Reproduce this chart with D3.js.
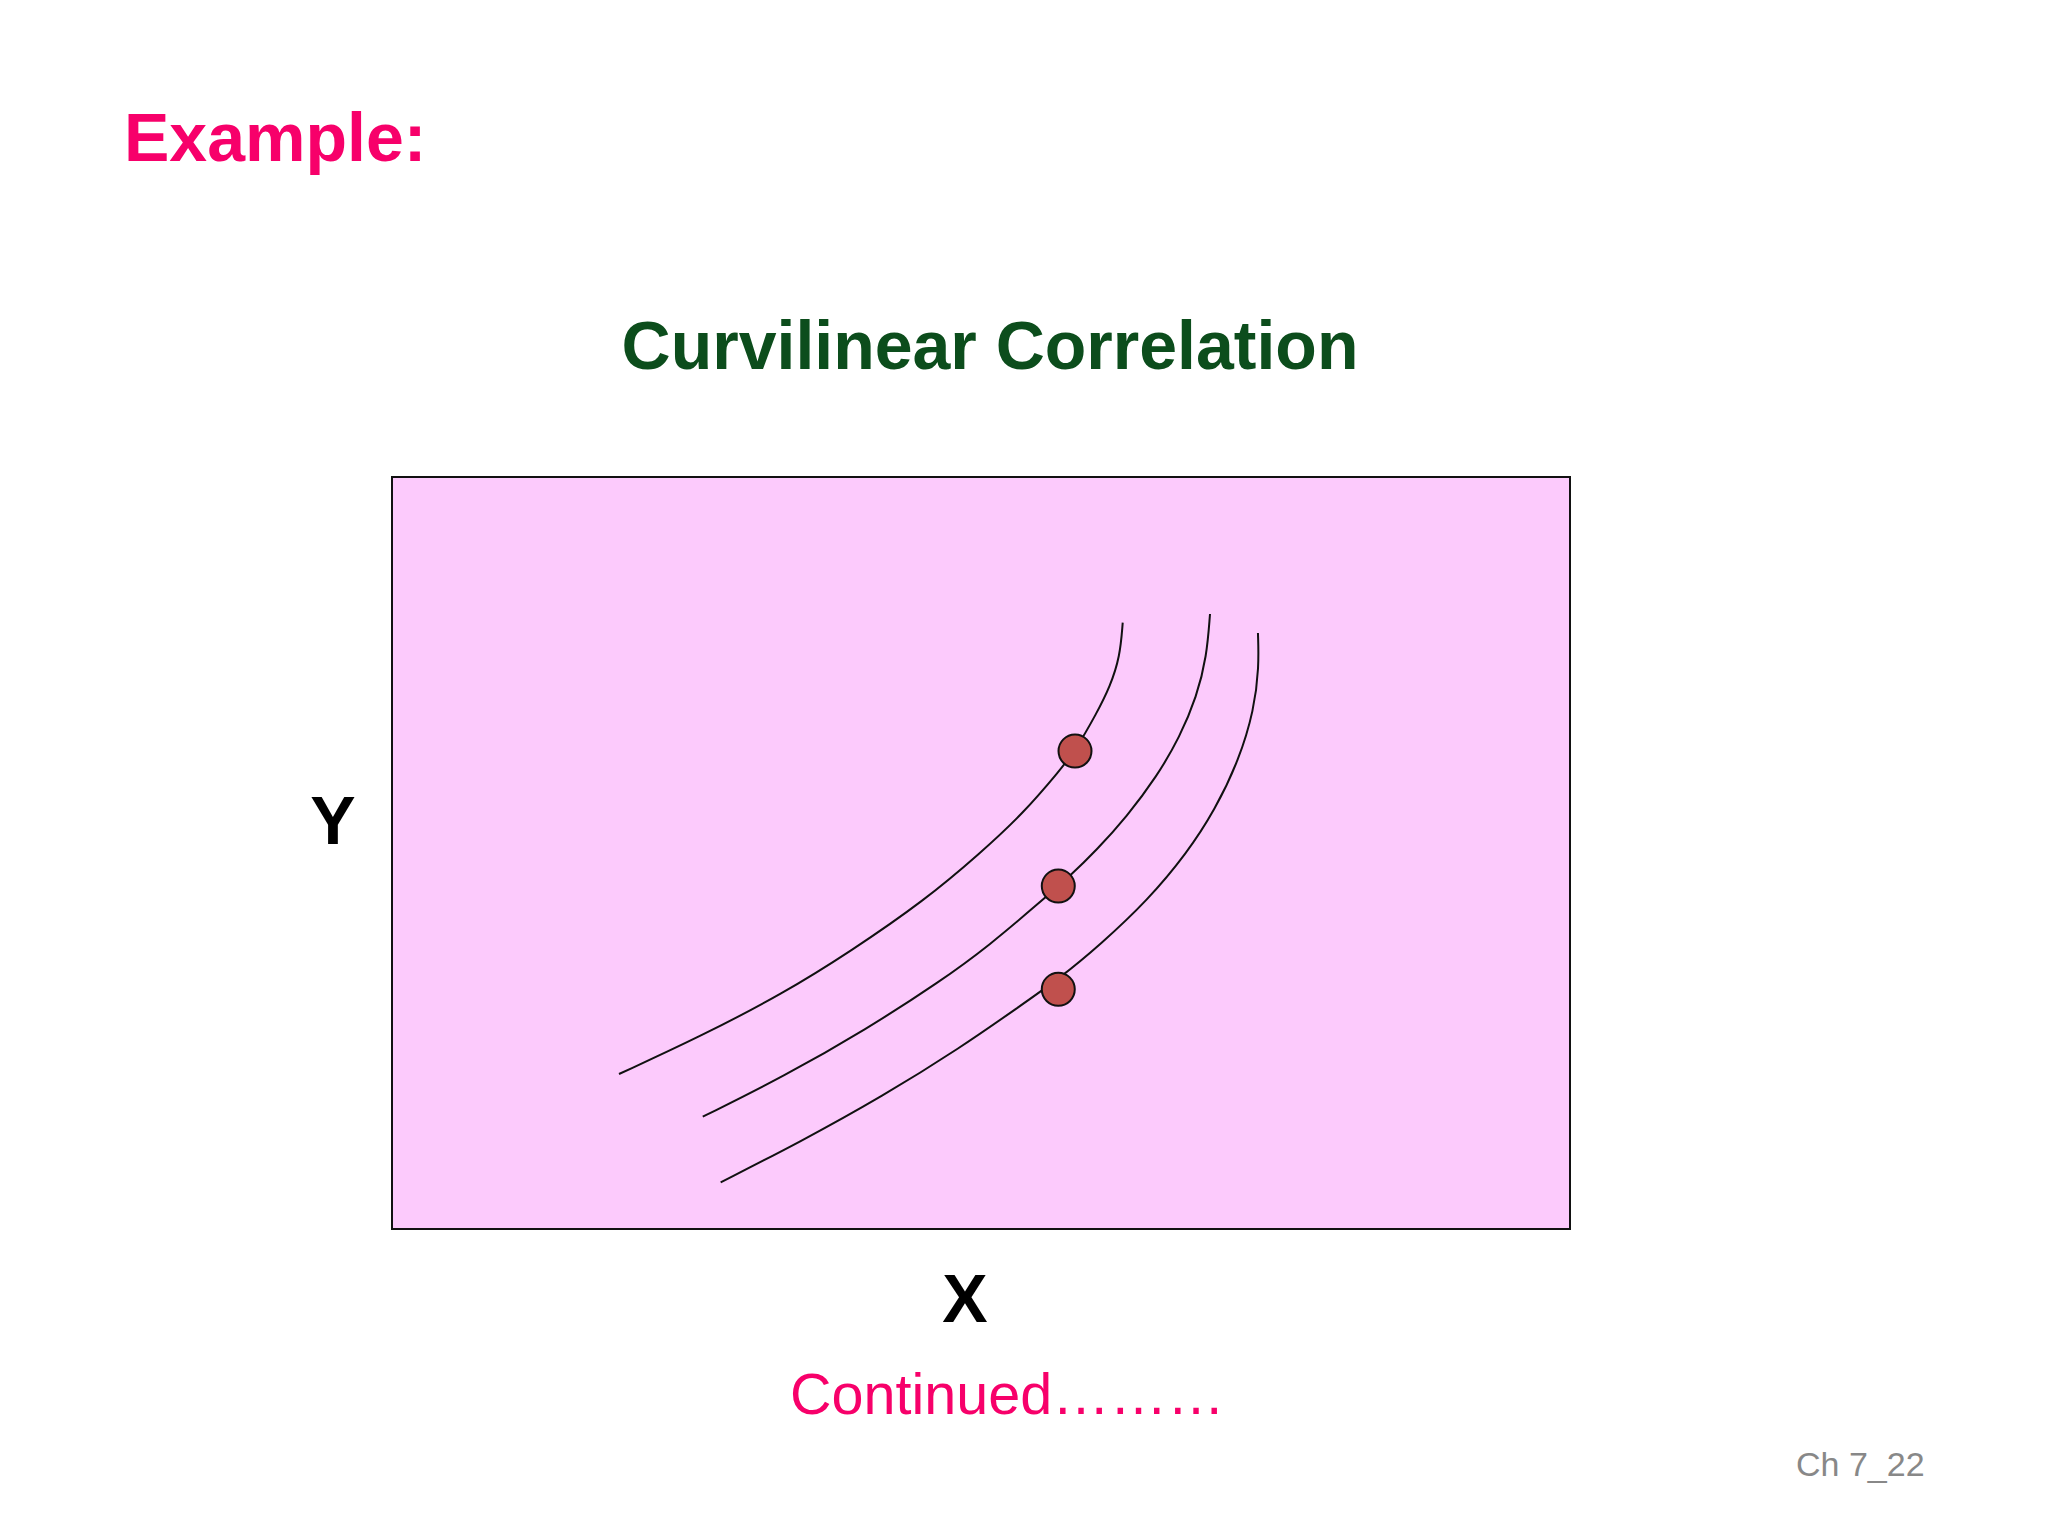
<!DOCTYPE html>
<html lang="en">

<head>
    <meta charset="UTF-8">
    <title>Curvilinear Correlation</title>
    <style>
        body { margin: 0; background: #ffffff; }
        text { font-family: "Liberation Sans", Arial, sans-serif; }
    </style>
</head>

<body>
    <div id="my_dataviz"></div>
    <script src="https://d3js.org/d3.v7.min.js"></script>
    <script>
        // three curves (x, y in 0..100 plot units)
        var curveTop = [
            [19.27, 20.61], [26.15, 25.57], [33.22, 31.34], [38.88, 36.87], [45.25, 43.75],
            [49.92, 49.96], [53.59, 55.28], [56.71, 61.04], [57.98, 63.56], [59.82, 68.58],
            [60.95, 72.11], [61.80, 76.10], [62.03, 80.63]
        ];
        var curveMid = [
            [26.38, 14.93], [33.22, 20.25], [40.30, 26.60], [46.52, 32.89], [50.76, 37.77],
            [55.01, 43.48], [57.56, 46.94], [59.82, 50.40], [62.37, 54.83],
            [64.92, 60.15], [66.89, 65.47], [68.31, 70.79], [69.16, 76.10], [69.44, 81.78]
        ];
        var curveLow = [
            [27.90, 6.21], [34.64, 11.57], [41.68, 17.69], [48.22, 24.07], [53.31, 29.65],
            [56.71, 33.38], [60.10, 37.77], [64.18, 43.75], [67.49, 50.00], [69.86, 55.72],
            [71.90, 62.37], [73.18, 69.02], [73.60, 74.73], [73.51, 79.26]
        ];
        // one marked point on each curve
        var dots = [[57.98, 63.56], [56.56, 45.61], [56.56, 31.88]];

        var W = 2048, H = 1536;
        var box = { left: 392, top: 477, right: 1570, bottom: 1229 };

        var svg = d3.select("#my_dataviz").append("svg")
            .attr("width", W)
            .attr("height", H);

        svg.append("rect")
            .attr("width", W).attr("height", H)
            .attr("fill", "#ffffff");

        var x = d3.scaleLinear().domain([0, 100]).range([box.left, box.right]);
        var y = d3.scaleLinear().domain([0, 100]).range([box.bottom, box.top]);

        // headings
        svg.append("text")
            .attr("x", 124).attr("y", 161)
            .attr("font-size", 68).attr("font-weight", "bold")
            .attr("fill", "#f7006a")
            .text("Example:");

        svg.append("text")
            .attr("x", 990).attr("y", 369)
            .attr("text-anchor", "middle")
            .attr("font-size", 68).attr("font-weight", "bold")
            .attr("fill", "#0c4d1c")
            .text("Curvilinear Correlation");

        // plot box
        svg.append("rect")
            .attr("x", x(0)).attr("y", y(100))
            .attr("width", x(100) - x(0))
            .attr("height", y(0) - y(100))
            .attr("fill", "#fccafc")
            .attr("stroke", "#111")
            .attr("stroke-width", 2);

        // b-spline smooths the hand-read points a little
        var line = d3.line()
            .x(function (d) { return x(d[0]); })
            .y(function (d) { return y(d[1]); })
            .curve(d3.curveBasis);

        svg.selectAll(".curve")
            .data([curveTop, curveMid, curveLow])
            .join("path")
            .attr("class", "curve")
            .attr("d", line)
            .attr("fill", "none")
            .attr("stroke", "#111")
            .attr("stroke-width", 2);

        svg.selectAll(".dot")
            .data(dots)
            .join("circle")
            .attr("class", "dot")
            .attr("cx", function (d) { return x(d[0]); })
            .attr("cy", function (d) { return y(d[1]); })
            .attr("r", 16.5)
            .attr("fill", "#c0504d")
            .attr("stroke", "#111")
            .attr("stroke-width", 2);

        // axis names
        svg.append("text")
            .attr("x", 333).attr("y", 844)
            .attr("text-anchor", "middle")
            .attr("font-size", 68).attr("font-weight", "bold")
            .attr("fill", "#000")
            .text("Y");

        svg.append("text")
            .attr("x", 965).attr("y", 1322)
            .attr("text-anchor", "middle")
            .attr("font-size", 68).attr("font-weight", "bold")
            .attr("fill", "#000")
            .text("X");

        svg.append("text")
            .attr("x", 790).attr("y", 1414)
            .attr("font-size", 57.5)
            .attr("fill", "#f7006a")
            .text("Continued\u2026\u2026\u2026");

        svg.append("text")
            .attr("x", 1796).attr("y", 1476)
            .attr("font-size", 34)
            .attr("fill", "#888888")
            .text("Ch 7_22");
    </script>
</body>

</html>
